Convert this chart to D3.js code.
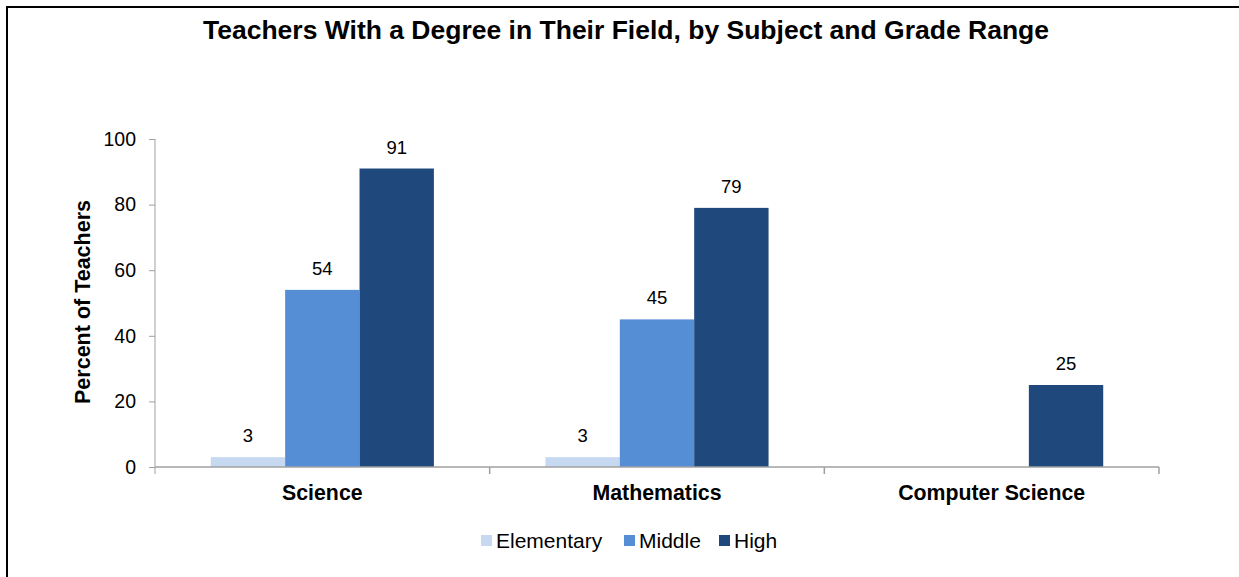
<!DOCTYPE html>
<html>
<head>
<meta charset="utf-8">
<script src="https://cdn.jsdelivr.net/npm/d3@7/dist/d3.min.js"></script>
<style>
  html, body { margin: 0; padding: 0; background: #fff; overflow: hidden; }
  svg { display: block; font-family: "Liberation Sans", Arial, sans-serif; }
</style>
</head>
<body>
<svg id="chart" width="1239" height="577"></svg>
<script>
// Subjects along the x axis, grade ranges as the grouped series
const subjects = ["Science", "Mathematics", "Computer Science"];
const levels = ["Elementary", "Middle", "High"];
const elementary = [3, 3, null];
const middle = [54, 45, null];
const high = [91, 79, 25];
const yTicks = [0, 20, 40, 60, 80, 100];
const colors = ["#C6D9F1", "#558ED5", "#1F497D"];

const seriesValues = [elementary, middle, high];
const rows = subjects.map((s, i) => ({
  subject: s,
  values: levels.map((lv, j) => ({ level: lv, value: seriesValues[j][i], color: colors[j] }))
}));

const svg = d3.select("#chart");
const axisColor = "#A0A0A0";

// Outer frame: only its top and left edges fall inside the view
svg.append("path")
  .attr("d", "M7,577V7H1239")
  .attr("fill", "none").attr("stroke", "#000").attr("stroke-width", 2);

const plotLeft = 155, plotRight = 1159, plotTop = 139, plotBottom = 467;

const x0 = d3.scaleBand().domain(subjects).range([plotLeft, plotRight]).paddingInner(0).paddingOuter(0);
const x1 = d3.scaleBand().domain(levels).range([0, x0.bandwidth()]).paddingInner(0).paddingOuter(0.75);
const y = d3.scaleLinear().domain([0, 100]).range([plotBottom, plotTop]);

// Title
svg.append("text")
  .attr("x", 626).attr("y", 39)
  .attr("text-anchor", "middle")
  .attr("font-weight", "bold").attr("font-size", 26.5)
  .attr("fill", "#000")
  .text("Teachers With a Degree in Their Field, by Subject and Grade Range");

// Bars
const groups = svg.append("g").selectAll("g")
  .data(rows).join("g")
  .attr("transform", d => `translate(${x0(d.subject)},0)`);

groups.selectAll("rect")
  .data(d => d.values.filter(v => v.value != null))
  .join("rect")
  .attr("x", v => x1(v.level))
  .attr("width", x1.bandwidth())
  .attr("y", v => y(v.value))
  .attr("height", v => y(0) - y(v.value))
  .attr("fill", v => v.color);

groups.selectAll("text")
  .data(d => d.values.filter(v => v.value != null))
  .join("text")
  .attr("x", v => x1(v.level) + x1.bandwidth() / 2)
  .attr("y", v => y(v.value) - 15)
  .attr("text-anchor", "middle")
  .attr("font-size", 18.5)
  .attr("fill", "#000")
  .text(v => v.value);

// Y axis
const yAxis = svg.append("g")
  .attr("transform", `translate(${plotLeft},0)`)
  .call(d3.axisLeft(y).tickValues(yTicks).tickSize(6).tickSizeOuter(0).tickPadding(13));
yAxis.select(".domain").attr("stroke", axisColor).attr("d", `M0,${plotTop}V${plotBottom + 7}`);
yAxis.selectAll(".tick line").attr("stroke", axisColor);
yAxis.selectAll(".tick text").attr("font-size", 19.5).attr("fill", "#000").attr("font-family", null);

// X axis: baseline with ticks between categories
const xAxisG = svg.append("g");
xAxisG.append("line")
  .attr("x1", plotLeft).attr("x2", plotRight)
  .attr("y1", y(0)).attr("y2", y(0))
  .attr("stroke", axisColor).attr("stroke-width", 1.5);
const boundaries = subjects.map(s => x0(s)).concat([x0(subjects[subjects.length - 1]) + x0.bandwidth()]);
xAxisG.selectAll("line.tick")
  .data(boundaries.slice(1))
  .join("line")
  .attr("class", "tick")
  .attr("x1", d => d).attr("x2", d => d)
  .attr("y1", y(0)).attr("y2", y(0) + 7)
  .attr("stroke", axisColor).attr("stroke-width", 1.5);
xAxisG.selectAll("text")
  .data(subjects)
  .join("text")
  .attr("x", d => x0(d) + x0.bandwidth() / 2)
  .attr("y", 500)
  .attr("text-anchor", "middle")
  .attr("font-weight", "bold").attr("font-size", 21.3)
  .attr("fill", "#000")
  .text(d => d);

// Y axis title
svg.append("text")
  .attr("transform", `translate(90,${(plotTop + plotBottom) / 2 - 1}) rotate(-90)`)
  .attr("text-anchor", "middle")
  .attr("font-weight", "bold").attr("font-size", 21.5)
  .attr("fill", "#000")
  .text("Percent of Teachers");

// Legend
const legendX = [481, 624, 719];
const legend = svg.append("g").selectAll("g")
  .data(levels).join("g")
  .attr("transform", (d, i) => `translate(${legendX[i]},535)`);
legend.append("rect")
  .attr("width", 11).attr("height", 11)
  .attr("fill", (d, i) => colors[i]);
legend.append("text")
  .attr("x", 15).attr("y", 12.5)
  .attr("font-size", 21)
  .attr("fill", "#000")
  .text(d => d);
</script>
</body>
</html>
